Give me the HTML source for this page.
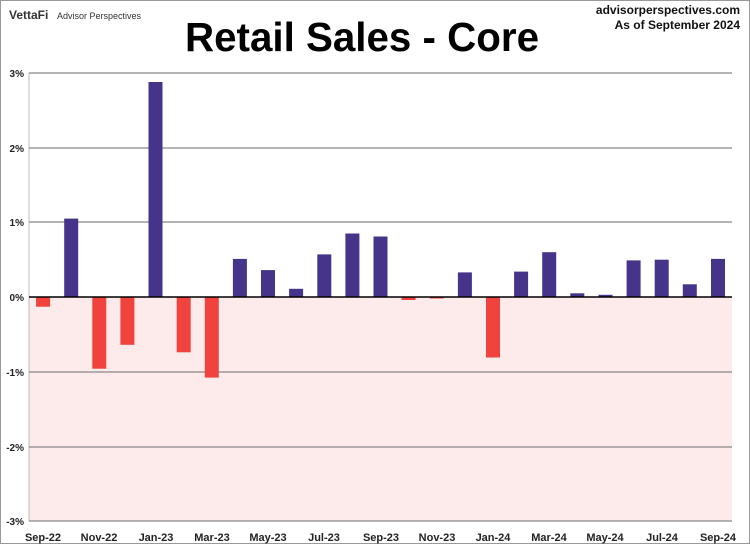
<!DOCTYPE html>
<html><head><meta charset="utf-8"><style>
html,body{margin:0;padding:0;background:#fff}
svg{display:block}
text{font-family:"Liberation Sans",sans-serif}
</style></head><body>
<svg width="750" height="544" viewBox="0 0 750 544" xmlns="http://www.w3.org/2000/svg">
<rect x="0.5" y="0.5" width="749" height="543" fill="#fff" stroke="#999"/>
<text x="9" y="19" font-size="12" font-weight="bold" fill="#333">VettaFi</text>
<text x="57" y="19" font-size="9" fill="#333">Advisor Perspectives</text>
<text x="740" y="14" font-size="12" font-weight="bold" text-anchor="end" fill="#111">advisorperspectives.com</text>
<text x="740" y="29" font-size="12" font-weight="bold" text-anchor="end" fill="#111">As of September 2024</text>
<text x="362" y="51" font-size="41" font-weight="bold" text-anchor="middle" fill="#000" textLength="354" lengthAdjust="spacingAndGlyphs">Retail Sales - Core</text>
<rect x="29" y="297" width="703" height="224" fill="#fdeaea"/>
<line x1="29" y1="73" x2="29" y2="521" stroke="#bbb"/>
<g stroke="#888" stroke-width="1.3">
<line x1="29" y1="73" x2="732" y2="73"/>
<line x1="29" y1="148" x2="732" y2="148"/>
<line x1="29" y1="222" x2="732" y2="222"/>
<line x1="29" y1="372" x2="732" y2="372"/>
<line x1="29" y1="447" x2="732" y2="447"/>
<line x1="29" y1="521" x2="732" y2="521"/>
</g>
<g fill="#46348a">
<rect x="64.2" y="218.6" width="14" height="78.4"/>
<rect x="148.5" y="82" width="14" height="215"/>
<rect x="232.9" y="258.9" width="14" height="38.1"/>
<rect x="261" y="270.1" width="14" height="26.9"/>
<rect x="289.1" y="288.8" width="14" height="8.2"/>
<rect x="317.3" y="254.4" width="14" height="42.6"/>
<rect x="345.4" y="233.5" width="14" height="63.5"/>
<rect x="373.5" y="236.5" width="14" height="60.5"/>
<rect x="457.9" y="272.4" width="14" height="24.6"/>
<rect x="514.1" y="271.6" width="14" height="25.4"/>
<rect x="542.2" y="252.2" width="14" height="44.8"/>
<rect x="570.3" y="293.3" width="14" height="3.7"/>
<rect x="598.5" y="294.8" width="14" height="2.2"/>
<rect x="626.6" y="260.4" width="14" height="36.6"/>
<rect x="654.7" y="259.7" width="14" height="37.3"/>
<rect x="682.8" y="284.3" width="14" height="12.7"/>
<rect x="711" y="258.9" width="14" height="38.1"/>
</g>
<g fill="#f0433d">
<rect x="36.1" y="297" width="14" height="9.7"/>
<rect x="92.3" y="297" width="14" height="71.7"/>
<rect x="120.4" y="297" width="14" height="47.8"/>
<rect x="176.7" y="297" width="14" height="55.3"/>
<rect x="204.8" y="297" width="14" height="80.6"/>
<rect x="401.6" y="297" width="14" height="3"/>
<rect x="429.7" y="297" width="14" height="1.5"/>
<rect x="486" y="297" width="14" height="60.5"/>
</g>
<line x1="29" y1="297" x2="732" y2="297" stroke="#000" stroke-width="1.5"/>
<g font-size="10" font-weight="bold" fill="#222" text-anchor="end">
<text x="24" y="77">3%</text>
<text x="24" y="152">2%</text>
<text x="24" y="226">1%</text>
<text x="24" y="301">0%</text>
<text x="24" y="376">-1%</text>
<text x="24" y="451">-2%</text>
<text x="24" y="525">-3%</text>
</g>
<g font-size="11" font-weight="bold" fill="#222" text-anchor="middle">
<text x="43" y="541">Sep-22</text>
<text x="99" y="541">Nov-22</text>
<text x="156" y="541">Jan-23</text>
<text x="212" y="541">Mar-23</text>
<text x="268" y="541">May-23</text>
<text x="324" y="541">Jul-23</text>
<text x="381" y="541">Sep-23</text>
<text x="437" y="541">Nov-23</text>
<text x="493" y="541">Jan-24</text>
<text x="549" y="541">Mar-24</text>
<text x="605" y="541">May-24</text>
<text x="662" y="541">Jul-24</text>
<text x="718" y="541">Sep-24</text>
</g>
</svg>
</body></html>
